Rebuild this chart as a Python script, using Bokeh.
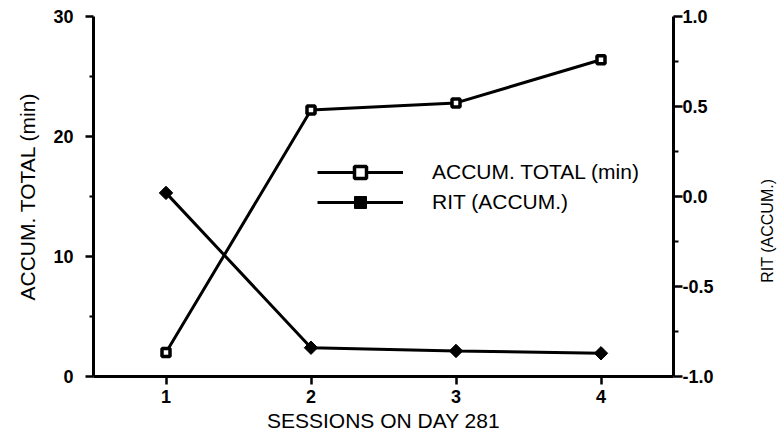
import math
from bokeh.plotting import figure
from bokeh.layouts import row
from bokeh.models import Range1d, LinearAxis, FixedTicker, PrintfTickFormatter, Legend, LegendItem
from bokeh.core.properties import value
from bokeh.embed import file_html
from bokeh.resources import INLINE

sessions = [1, 2, 3, 4]
accum_total = [2.0, 22.2, 22.8, 26.4]
rit_accum = [0.02, -0.84, -0.858, -0.871]
x_ticks = [1, 2, 3, 4]
left_ticks = [0, 10, 20, 30]
left_minor = [5, 15, 25]
right_ticks = [-1.0, -0.5, 0.0, 0.5, 1.0]
right_minor = [-0.75, -0.25, 0.25, 0.75]
right_title = "RIT (ACCUM.)"

FONT = "Liberation Sans"

p = figure(width=750, height=442, output_backend="svg", toolbar_location=None,
           x_range=Range1d(0.5, 4.5), y_range=Range1d(0, 30),
           min_border_left=93, min_border_right=77, min_border_top=16, min_border_bottom=66)
p.extra_y_ranges = {"rit": Range1d(-1.0, 1.0)}
p.outline_line_color = None
p.xgrid.visible = False
p.ygrid.visible = False
p.background_fill_color = "white"
p.border_fill_color = "white"

def style_axis(ax, tick_out=8, minor_out=4):
    ax.axis_line_width = 3
    ax.axis_line_color = "black"
    ax.major_tick_out = tick_out
    ax.major_tick_in = 0
    ax.minor_tick_out = minor_out
    ax.minor_tick_in = 0
    ax.major_tick_line_width = 2.5
    ax.minor_tick_line_width = 2
    ax.major_label_text_font = FONT
    ax.major_label_text_font_style = "bold"
    ax.major_label_text_font_size = "18px"
    ax.major_label_text_color = "black"
    ax.axis_label_text_font = FONT
    ax.axis_label_text_font_style = "normal"
    ax.axis_label_text_color = "black"

xa = p.xaxis[0]
xa.ticker = FixedTicker(ticks=x_ticks, minor_ticks=[])
style_axis(xa)
xa.axis_label = "SESSIONS ON DAY 281"
xa.axis_label_text_font_size = "21px"
xa.major_label_standoff = 5
xa.axis_label_standoff = 3

ya = p.yaxis[0]
ya.ticker = FixedTicker(ticks=left_ticks, minor_ticks=left_minor)
style_axis(ya)
ya.axis_label = "ACCUM. TOTAL (min)"
ya.axis_label_text_font_size = "21px"
ya.major_label_standoff = 12
ya.axis_label_standoff = 11

ra = LinearAxis(y_range_name="rit")
ra.ticker = FixedTicker(ticks=right_ticks, minor_ticks=right_minor)
ra.formatter = PrintfTickFormatter(format="%.1f")
style_axis(ra, tick_out=9, minor_out=5)
ra.major_label_standoff = 0
p.add_layout(ra, "right")

l1 = p.line(sessions, accum_total, line_width=3, line_color="black")
s1 = p.scatter(sessions, accum_total, marker="square", size=8, fill_color="white",
               line_color="black", line_width=3.5)
l2 = p.line(sessions, rit_accum, line_width=3, line_color="black", y_range_name="rit")
s2 = p.scatter(sessions, rit_accum, marker="square", angle=0.785, size=9.5,
               fill_color="black", line_color="black", line_width=1, y_range_name="rit")

legend = Legend(items=[LegendItem(label="ACCUM. TOTAL (min)", renderers=[l1, s1]),
                       LegendItem(label="RIT (ACCUM.)", renderers=[l2, s2])],
                location=(224, 159))
legend.border_line_color = None
legend.background_fill_alpha = 0
legend.padding = 0
legend.margin = 0
legend.spacing = 0
legend.glyph_width = 86
legend.glyph_height = 30
legend.label_height = 30
legend.label_standoff = 29
legend.label_text_font = FONT
legend.label_text_font_size = "21px"
legend.label_text_color = "black"
p.add_layout(legend, "center")

# narrow strip holding the right-hand axis title, reading bottom-to-top
p2 = figure(width=31, height=442, output_backend="svg", toolbar_location=None,
            x_range=Range1d(0, 31), y_range=Range1d(0, 442),
            x_axis_type=None, y_axis_type=None,
            min_border=0, min_border_left=0, min_border_right=0,
            min_border_top=0, min_border_bottom=0)
p2.xgrid.visible = False
p2.ygrid.visible = False
p2.outline_line_color = None
p2.background_fill_color = "white"
p2.border_fill_color = "white"
p2.text(x=[17], y=[179], text=[right_title], angle=math.pi / 2,
        text_align="center", text_baseline="middle",
        text_font=value(FONT), text_font_size="16px", text_color="black")

root = row(p, p2)
open("out.html", "w").write(file_html(root, INLINE))
